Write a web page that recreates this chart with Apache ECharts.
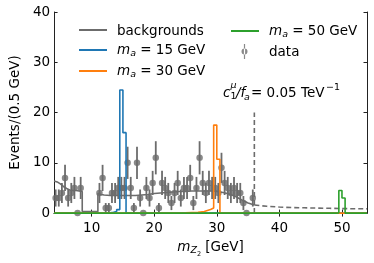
<!DOCTYPE html>
<html><head><meta charset="utf-8">
<script src="https://cdn.jsdelivr.net/npm/echarts@6/dist/echarts.min.js"></script>
<style>html,body{margin:0;padding:0;background:#fff}#c{width:374px;height:263px}</style>
</head><body><div id="c"></div>
<script>
// ---- data ----
const xTicks = [10, 20, 30, 40, 50];
const yTicks = [0, 10, 20, 30, 40];

const dataX = [4.25,4.75,5.25,5.75,6.25,6.75,7.25,7.75,8.25,
  11.25,11.75,12.25,12.75,13.25,13.75,14.25,14.75,15.25,15.75,16.25,16.75,17.25,17.75,18.25,18.75,19.25,19.75,
  20.25,20.75,21.25,21.75,22.25,22.75,23.25,23.75,24.25,24.75,25.25,25.75,26.25,26.75,27.25,27.75,28.25,28.75,29.25,29.75,
  30.25,30.75,31.25,31.75,32.25,32.75,33.25,33.75,34.25,34.75,35.75];
const dataY = [3,3,4,7,3,4,5,0,5,
  4,7,1,1,4,4,5,5,5,10,5,1,10,3,0,5,3,6,
  11,1,6,5,4,2,4,6,3,5,5,7,2,5,11,6,4,6,5,5,
  4,9,6,5,4,5,4,4,2,0,3];
const dataErr = [1.7,1.7,2,2.6,1.7,2,2.2,0,2.2,
  2,2.6,1,1,2,2,2.2,2.2,2.2,3.2,2.2,1,3.2,1.7,0,2.2,1.7,2.4,
  3.3,1,2.4,2.2,2,1.4,2,2.4,1.7,2.2,2.2,2.6,1.4,2.2,3.3,2.4,2,2.4,2.2,2.2,
  2,3,2.4,2.2,2,2.2,2,2,1.4,0,1.7];

const bkgX = [4,4.5,5,5.5,6,6.5,7,7.5,8,8.5,8.5,11,11,11.5,12,13,14,15,16,17,18,19,20,21,22,23,24,25,26,27,28,29,30,31,32,33,34,35,36];
const bkgY = [6.4,6.2,5.8,5.3,4.9,4.6,4.5,4.5,4.4,4.3,0.3,0.3,3.9,3.7,3.6,3.5,3.5,3.5,3.5,3.5,3.6,3.7,3.9,4.0,4.1,4.2,4.3,4.3,4.4,4.4,4.4,4.4,4.3,4.1,3.8,3.3,2.6,2.0,1.6];
const tailX = [36,38,40,42,44,46,48,50,52,54];
const tailY = [1.6,1.35,1.2,1.1,1.05,1.0,0.95,0.9,0.87,0.85];
const cutX = [36, 36];
const cutY = [0, 20];

const blueEdges = [4,12,13,13.5,14,14.5,15,15.5,54];
const blueVals  = [0,0.05,0.15,0.3,0.7,24.5,16,0];
const orangeEdges = [4,22,25,27,28,28.5,29,29.5,30,30.5,54];
const orangeVals  = [0,0.05,0.15,0.3,0.5,0.7,1.0,17.5,10.7,0];
const greenEdges = [4,49,49.5,50,50.5,54];
const greenVals  = [0,0.05,4.5,3.0,0];

// ---- chart ----
const FONT = 'DejaVu Sans';
const FS = 13.5;
const GRAY = '#6c6c6c';
const C_BLUE = '#1f77b4', C_ORANGE = '#ff7f0e', C_GREEN = '#2ca02c';

function zip(a, b) { return a.map((v, i) => [v, b[i]]); }
function stepPts(edges, vals) {
  const p = vals.map((v, i) => [edges[i], v]);
  p.push([edges[edges.length - 1], vals[vals.length - 1]]);
  return p;
}

const rich = {
  n: {fontFamily: FONT, fontSize: FS, color: '#000', verticalAlign: 'top', padding: [2, 0, 0, 0]},
  i: {fontFamily: FONT, fontSize: FS, fontStyle: 'italic', color: '#000', verticalAlign: 'top', padding: [2, 0, 0, 0]},
  s: {fontFamily: FONT, fontSize: 9.5, fontStyle: 'italic', color: '#000', verticalAlign: 'top', padding: [8, 0, 0, 0]},
  ss: {fontFamily: FONT, fontSize: 6.5, color: '#000', verticalAlign: 'top', padding: [13, 0, 0, 0]}
};
const legendNames = {
  'backgrounds': '{n|backgrounds}',
  'm15': '{i|m}{s|a}{n| = 15 GeV}',
  'm30': '{i|m}{s|a}{n| = 30 GeV}',
  'm50': '{i|m}{s|a}{n| = 50 GeV}',
  'data': '{n|data}'
};
function fmt(name) { return legendNames[name]; }

const lineLegend = (left, top, data) => ({
  left: left, top: top, padding: 0, orient: 'vertical', itemGap: 5, itemWidth: 28, itemHeight: 2,
  icon: 'rect', data: data, formatter: fmt, selectedMode: false,
  textStyle: {rich: rich, padding: [0, 0, 0, 5]}
});

const chart = echarts.init(document.getElementById('c'), null, {renderer: 'canvas'});
const axisCommon = {
  axisLine: {show: true, lineStyle: {color: '#222', width: 1}},
  splitLine: {show: false},
};
chart.setOption({
  animation: false,
  backgroundColor: '#fff',
  grid: {left: 44, right: 7, top: 12, bottom: 42, containLabel: false},
  legend: [
    lineLegend(79, 24, ['backgrounds', 'm15', 'm30']),
    lineLegend(231, 24, ['m50']),
    {
      left: 241.5, top: 44, padding: 0, orient: 'vertical', itemWidth: 7, itemHeight: 15, selectedMode: false,
      icon: 'path://M2.9,0L4.1,0L4.1,15L2.9,15Z M0.5,7.5a3,3 0 1,0 6,0a3,3 0 1,0 -6,0Z',
      data: ['data'], formatter: fmt,
      textStyle: {rich: rich, padding: [0, 0, 0, 16]}
    }
  ],
  xAxis: [
    Object.assign({
      type: 'value', min: 4, max: 54, position: 'bottom',
      axisTick: {show: true, inside: true, length: 3.5, customValues: xTicks, lineStyle: {color: '#222'}},
      axisLabel: {show: true, customValues: xTicks, fontFamily: FONT, fontSize: FS, color: '#000', margin: 8},
      name: '{i|m}{s|Z}{ss|2}{n| [GeV]}', nameLocation: 'middle', nameGap: 18,
      nameTextStyle: {rich: rich}
    }, axisCommon),
    Object.assign({
      type: 'value', min: 4, max: 54, position: 'top',
      axisTick: {show: true, inside: true, length: 3.5, customValues: xTicks, lineStyle: {color: '#222'}},
      axisLabel: {show: false}
    }, axisCommon)
  ],
  yAxis: [
    Object.assign({
      type: 'value', min: 0, max: 40, interval: 10, position: 'left',
      axisTick: {show: true, inside: true, length: 3.5, customValues: yTicks, lineStyle: {color: '#222'}},
      axisLabel: {show: true, customValues: yTicks, fontFamily: FONT, fontSize: FS, color: '#000', margin: 4},
      name: 'Events/(0.5 GeV)', nameLocation: 'middle', nameGap: 28,
      nameTextStyle: {fontFamily: FONT, fontSize: FS, color: '#000'}
    }, axisCommon),
    Object.assign({
      type: 'value', min: 0, max: 40, interval: 10, position: 'right',
      axisTick: {show: true, inside: true, length: 3.5, customValues: yTicks, lineStyle: {color: '#222'}},
      axisLabel: {show: false}
    }, axisCommon)
  ],
  graphic: [
    {type: 'text', left: 223, top: 86, style: {text: 'c', font: 'italic 13.5px "DejaVu Sans"', fill: '#000'}},
    {type: 'text', left: 230.5, top: 81, style: {text: 'μ', font: 'italic 9.5px "DejaVu Sans"', fill: '#000'}},
    {type: 'text', left: 230.5, top: 92, style: {text: '1', font: '9.5px "DejaVu Sans"', fill: '#000'}},
    {type: 'text', left: 236, top: 86, style: {text: '/f', font: 'italic 13.5px "DejaVu Sans"', fill: '#000'}},
    {type: 'text', left: 244, top: 93, style: {text: 'a', font: 'italic 9.5px "DejaVu Sans"', fill: '#000'}},
    {type: 'text', left: 251, top: 86, style: {text: '= 0.05 TeV', font: '13.5px "DejaVu Sans"', fill: '#000'}},
    {type: 'text', left: 326, top: 83, style: {text: '−1', font: '9.5px "DejaVu Sans"', fill: '#000'}}
  ],
  series: [
    {name: 'backgrounds', type: 'line', data: zip(bkgX, bkgY), symbol: 'none', color: GRAY,
     lineStyle: {color: GRAY, width: 1.6}, z: 2},
    {name: 'bkgtail', type: 'line', data: zip(tailX, tailY), symbol: 'none', color: GRAY,
     lineStyle: {color: GRAY, width: 1.6, type: [5, 3]}, z: 2},
    {name: 'cut', type: 'line', data: zip(cutX, cutY), symbol: 'none', color: GRAY,
     lineStyle: {color: GRAY, width: 1.6, type: [5, 3]}, z: 2},
    {name: 'errbars', type: 'custom', z: 3,
     data: dataX.map((x, i) => [x, dataY[i], dataErr[i]]),
     renderItem: function (params, api) {
       const x = api.value(0), y = api.value(1), e = api.value(2);
       const p1 = api.coord([x, y - e]), p2 = api.coord([x, y + e]);
       return {type: 'line', shape: {x1: p1[0], y1: p1[1], x2: p2[0], y2: p2[1]},
               style: {stroke: GRAY, lineWidth: 1.8}};
     }},
    {name: 'data', type: 'scatter', data: zip(dataX, dataY), symbol: 'circle', symbolSize: 6.5,
     color: GRAY, itemStyle: {color: GRAY}, z: 4},
    {name: 'm15', type: 'line', step: 'end', data: stepPts(blueEdges, blueVals), symbol: 'none',
     color: C_BLUE, lineStyle: {color: C_BLUE, width: 1.6}, z: 5},
    {name: 'm30', type: 'line', step: 'end', data: stepPts(orangeEdges, orangeVals), symbol: 'none',
     color: C_ORANGE, lineStyle: {color: C_ORANGE, width: 1.6}, z: 5},
    {name: 'm50', type: 'line', step: 'end', data: stepPts(greenEdges, greenVals), symbol: 'none',
     color: C_GREEN, lineStyle: {color: C_GREEN, width: 1.6}, z: 6}
  ]
});
</script>
</body></html>
